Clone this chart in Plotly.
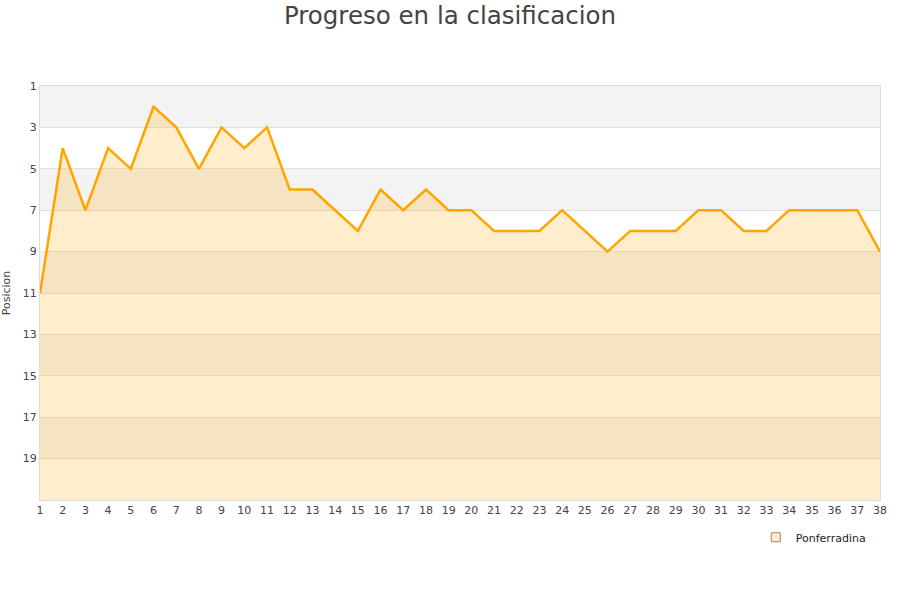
import plotly.graph_objects as go

jornadas = list(range(1, 39))
posicion = [11, 4, 7, 4, 5, 2, 3, 5, 3, 4, 3, 6, 6, 7, 8, 6, 7, 6, 7, 7,
            8, 8, 8, 7, 8, 9, 8, 8, 8, 7, 7, 8, 8, 7, 7, 7, 7, 9]
equipo = 'Ponferradina'
y_ticks = list(range(1, 20, 2))
fondo = 21

fig = go.Figure()

# base line at the bottom so the area fills down from the line
fig.add_trace(go.Scatter(
    x=jornadas, y=[fondo] * len(jornadas),
    mode='lines', line=dict(width=0), showlegend=False, hoverinfo='skip',
))
fig.add_trace(go.Scatter(
    x=jornadas, y=posicion, name=equipo,
    mode='lines', line=dict(color='#ffa500', width=2.5),
    fill='tonexty', fillcolor='rgba(255,165,0,0.2)', showlegend=False,
))
# legend entry with a square swatch
fig.add_trace(go.Scatter(
    x=[None], y=[None], name=equipo, mode='markers',
    marker=dict(symbol='square', size=9, color='#ffedcc',
                line=dict(color='#a08a60', width=1)),
))

# alternating grey bands
for lo in range(1, fondo, 4):
    fig.add_shape(type='rect', xref='paper', x0=0, x1=1, y0=lo, y1=lo + 2,
                  fillcolor='#f3f3f3', line_width=0, layer='below')

fig.update_layout(
    width=900, height=600,
    paper_bgcolor='white', plot_bgcolor='white',
    title=dict(text='Progreso en la clasificacion', x=0.5, xanchor='center',
               y=0.975, yanchor='middle',
               font=dict(family='DejaVu Sans', size=24.5, color='#444')),
    font=dict(family='DejaVu Sans', size=11, color='#444'),
    margin=dict(l=40, r=20, t=86, b=100),
    legend=dict(x=0.989, xanchor='right', y=-0.09, yanchor='middle',
                font=dict(size=11, color='#222'), bgcolor='rgba(0,0,0,0)'),
    showlegend=True,
)
fig.update_xaxes(range=[1, 38], tickmode='linear', tick0=1, dtick=1,
                 showgrid=False, zeroline=False, showline=True,
                 linecolor='#ddd', mirror=True, ticks='', automargin=False)
fig.update_yaxes(range=[fondo, 1], tickvals=y_ticks, showgrid=True,
                 gridcolor='#e0e0e0', zeroline=False, showline=True,
                 linecolor='#ddd', mirror=True, automargin=False,
                 title=dict(text='Posicion', font=dict(size=11)))

# drop the default page margin so the figure sits at the window corner
fig.write_html("out.html", config={'displayModeBar': False},
               post_script="document.body.style.margin = '0';")
